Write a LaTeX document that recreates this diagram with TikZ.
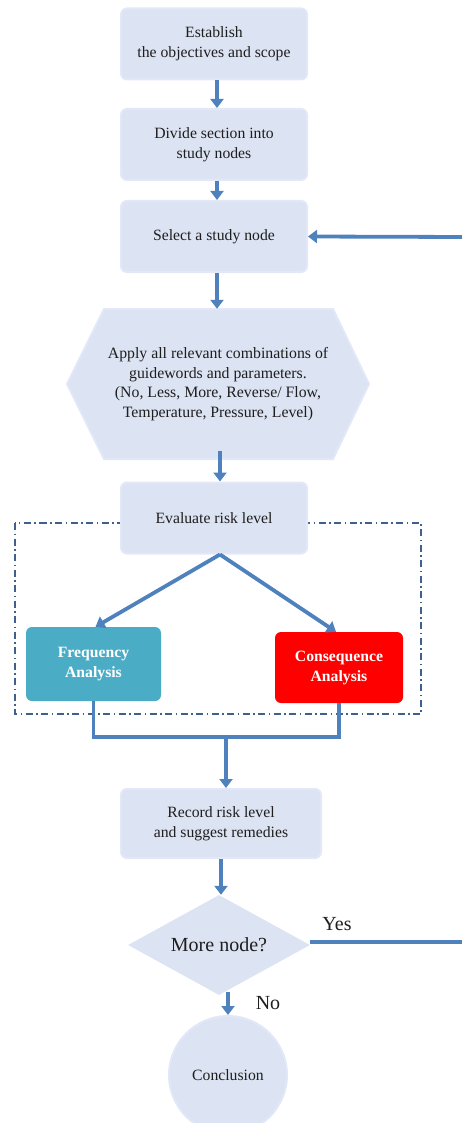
\documentclass[tikz,border=0pt]{standalone}
\usepackage{fontspec}
\setmainfont{Liberation Serif}
\usetikzlibrary{arrows.meta,shapes.geometric}
\definecolor{boxfill}{RGB}{220,227,242}
\definecolor{boxedge}{RGB}{226,232,248}
\definecolor{flow}{RGB}{79,129,189}
\definecolor{frame}{RGB}{63,95,143}
\definecolor{freqfill}{RGB}{75,172,198}
\definecolor{txt}{RGB}{30,30,30}
\tikzset{
  stepbox/.style={rectangle, rounded corners=6pt, fill=boxfill, draw=boxedge, line width=2pt,
    minimum width=186pt, minimum height=71pt, align=center, text=txt,
    font=\fontsize{15.7}{20}\selectfont},
  colbox/.style={rectangle, rounded corners=6pt, align=center, text=white,
    font=\bfseries\fontsize{15.7}{20}\selectfont},
  flowline/.style={draw=flow, line width=3.8pt},
  flowarrow/.style={flowline, -{Triangle[width=13pt,length=9pt]}},
  tag/.style={font=\fontsize{20}{22}\selectfont, text=txt},
}
\begin{document}
\begin{tikzpicture}[x=1pt,y=-1pt]
\useasboundingbox (0,0) rectangle (462,1123);

% risk evaluation frame (behind the boxes)
\draw[frame, line width=1.3pt, dash pattern=on 7pt off 3.5pt on 1.5pt off 3.5pt] (15,523) rectangle (421,714);

% process boxes
\node[stepbox] (est) at (214,44) {Establish\\the objectives and scope};
\node[stepbox] (div) at (214,144.5) {Divide section into\\study nodes};
\node[stepbox] (sel) at (214,236.5) {Select a study node};

% guideword hexagon
\fill[boxfill, draw=boxedge, line width=2pt] (67,384) -- (104,309) -- (333,309) -- (369,384) -- (333,459) -- (104,459) -- cycle;
\node[align=center, text=txt, font=\fontsize{15.8}{19.5}\selectfont, minimum width=302pt, minimum height=150pt, inner sep=0pt] (hex) at (218,384)
  {Apply all relevant combinations of\\guidewords and parameters.\\(No, Less, More, Reverse/ Flow,\\Temperature, Pressure, Level)};

\node[stepbox] (eva) at (214,518) {Evaluate risk level};

\node[colbox, fill=freqfill, minimum width=135pt, minimum height=74pt] (frq) at (93.5,664) {Frequency\\Analysis};
\node[colbox, fill=red, minimum width=128pt, minimum height=71pt] (con) at (339,667.5) {Consequence\\Analysis};

\node[stepbox, minimum width=200pt, minimum height=69pt] (rec) at (221,823.5) {Record risk level\\and suggest remedies};

\node[diamond, fill=boxfill, minimum width=182pt, minimum height=100pt, aspect=1.8, inner sep=0pt, text=txt,
  font=\fontsize{20}{22}\selectfont] (dec) at (219,945) {More node?};

\node[circle, fill=boxfill, draw=boxedge, line width=2pt, minimum size=118pt, text=txt,
  font=\fontsize{15.7}{20}\selectfont] (end) at (228,1075) {Conclusion};

% branch labels
\node[tag] (yes) at (337,924) {Yes};
\node[tag] (no) at (268,1003) {No};

% connectors
\draw[flowarrow] ([xshift=3pt]est.south) -- ([xshift=3pt]div.north);
\draw[flowarrow] ([xshift=3pt]div.south) -- ([xshift=3pt]sel.north);
\draw[flowarrow] ([xshift=3pt]sel.south) -- ([xshift=3pt]sel.south |- hex.north);
\draw[flowarrow] ([xshift=2pt,yshift=8pt]hex.south) -- ([xshift=6pt]eva.north);
\draw[flowarrow] ([xshift=6pt]eva.south) -- ([xshift=2pt]frq.north);
\draw[flowarrow] ([xshift=6pt]eva.south) -- ([xshift=-3pt]con.north);

\coordinate (mg) at (226,737);
\draw[flowline] (frq.south) |- (mg) -| (con.south);
\draw[flowarrow] (mg) -- (mg |- rec.north);
\draw[flowarrow] (rec.south) -- (rec.south |- dec.north);
\draw[flowarrow] ([yshift=3pt]dec.south -| end.north) -- (end.north);

% return loop for the next node
\coordinate (rt) at (466,942);
\coordinate (rb) at (466,237);
\draw[flowarrow] (dec.east |- rt) -- (rt) -- (rb) -- (sel.east);
\end{tikzpicture}
\end{document}
